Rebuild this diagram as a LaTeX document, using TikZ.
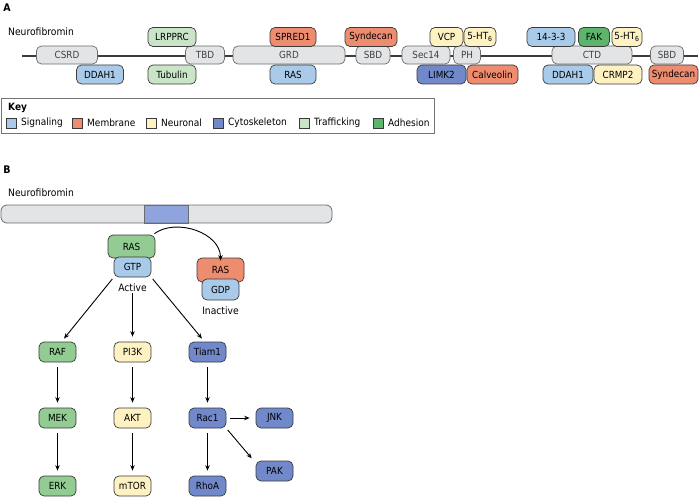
\documentclass[tikz,border=0pt]{standalone}
\usepackage{fontspec}
\setmainfont{DejaVu Sans}[FakeStretch=0.9]
\usetikzlibrary{arrows.meta}
\definecolor{sig}{HTML}{A9CBE9}
\definecolor{mem}{HTML}{EE8C70}
\definecolor{neu}{HTML}{FEF2C3}
\definecolor{cyt}{HTML}{7189CB}
\definecolor{tra}{HTML}{C9E4C7}
\definecolor{adh}{HTML}{5DB46C}
\definecolor{rasg}{HTML}{92CC92}
\definecolor{dom}{HTML}{E2E4E6}
\definecolor{barblue}{HTML}{8FA4DD}
\definecolor{lin}{HTML}{3C3C3C}
\definecolor{edge}{HTML}{3A3A3A}
\definecolor{domedge}{HTML}{6A6C6E}
\begin{document}
\begin{tikzpicture}[x=1pt,y=-1pt,
  pbox/.style={draw=edge,rounded corners=5pt,line width=0.7pt,minimum height=19pt,inner sep=0pt,font=\fontsize{9.8}{11}\selectfont,text=black},
  dbox/.style={draw=domedge,fill=dom,rounded corners=5pt,line width=0.7pt,minimum height=18pt,inner sep=0pt,font=\fontsize{9.8}{11}\selectfont,text=black!75},
  bbox/.style={draw=edge,rounded corners=5pt,line width=0.7pt,minimum width=37pt,minimum height=20pt,inner sep=0pt,font=\fontsize{9.8}{11}\selectfont},
  keysq/.style={draw=edge,line width=0.6pt,minimum width=10pt,minimum height=10pt,inner sep=0pt},
  keytxt/.style={anchor=west,inner sep=0pt,font=\fontsize{10}{12}\selectfont},
  plain/.style={inner sep=0pt,font=\fontsize{10.2}{12}\selectfont},
  panel/.style={inner sep=0pt,font=\fontsize{10.5}{12}\selectfont\bfseries},
  arr/.style={-{Stealth[length=5.5pt,width=4.5pt]},line width=0.9pt,black}]
\useasboundingbox (0,0) rectangle (700,497);
% ---------- Panel A ----------
\node[panel] (lA) at (7,8) {A};
\node[plain,anchor=west] (nfA) at (8,32) {Neurofibromin};
\coordinate (l0) at (22,56);
\coordinate (l1) at (698,56);
\draw[lin,line width=1.8pt] (l0) -- (l1);
% domains
\node[dbox,minimum width=61pt] (csrd) at (67,55) {CSRD};
\node[dbox,minimum width=39pt] (tbd) at (205,55) {TBD};
\node[dbox,minimum width=112pt] (grd) at (289,55) {GRD};
\node[dbox,minimum width=34pt] (sbd1) at (373,55) {SBD};
\node[dbox,minimum width=48pt] (sec) at (426,55) {Sec14};
\node[dbox,minimum width=27pt] (ph) at (467,55) {PH};
\node[dbox,minimum width=80pt] (ctd) at (592,55) {CTD};
\node[dbox,minimum width=33pt] (sbd2) at (667,55) {SBD};
% binding partners
\node[pbox,fill=sig,minimum width=47pt] (ddah1) at (100,74.5) {DDAH1};
\node[pbox,fill=tra,minimum width=48pt] (lrp) at (172,37) {LRPPRC};
\node[pbox,fill=tra,minimum width=48pt] (tub) at (172,74.5) {Tubulin};
\node[pbox,fill=mem,minimum width=46pt] (spred) at (293,37) {SPRED1};
\node[pbox,fill=sig,minimum width=46pt] (rasA) at (293,74.5) {RAS};
\node[pbox,fill=mem,minimum width=52pt] (synd1) at (371,37) {Syndecan};
\node[pbox,fill=neu,minimum width=33pt] (vcp) at (446.5,37) {VCP};
\node[pbox,fill=neu,minimum width=32pt] (ht1) at (480,37) {5-HT\textsubscript{6}};
\node[pbox,fill=cyt,minimum width=49pt] (limk) at (441.5,74.5) {LIMK2};
\node[pbox,fill=mem,minimum width=51pt] (calv) at (492.5,74.5) {Calveolin};
\node[pbox,fill=sig,minimum width=48pt] (f1433) at (551,37) {14-3-3};
\node[pbox,fill=adh,minimum width=31pt] (fak) at (594,37) {FAK};
\node[pbox,fill=neu,minimum width=30pt] (ht2) at (627,37) {5-HT\textsubscript{6}};
\node[pbox,fill=sig,minimum width=50pt] (ddah2) at (568,74.5) {DDAH1};
\node[pbox,fill=neu,minimum width=48pt] (crmp) at (618,74.5) {CRMP2};
\node[pbox,fill=mem,minimum width=49pt] (synd2) at (673.5,74.5) {Syndecan};
% key
\coordinate (k0) at (1,98);
\coordinate (k1) at (434,133);
\draw[draw=black!55,line width=0.8pt] (k0) rectangle (k1);
\node[inner sep=0pt,anchor=west,font=\fontsize{10}{12}\selectfont\bfseries] (keyt) at (8,108) {Key};
\node[keysq,fill=sig] (s1) at (11,123) {};
\node[keytxt] (t1) at (21,123) {Signaling};
\node[keysq,fill=mem] (s2) at (77,123) {};
\node[keytxt] (t2) at (87,123) {Membrane};
\node[keysq,fill=neu] (s3) at (151,123) {};
\node[keytxt] (t3) at (161,123) {Neuronal};
\node[keysq,fill=cyt] (s4) at (218,123) {};
\node[keytxt] (t4) at (228,123) {Cytoskeleton};
\node[keysq,fill=tra] (s5) at (304,123) {};
\node[keytxt] (t5) at (314,123) {Trafficking};
\node[keysq,fill=adh] (s6) at (378,123) {};
\node[keytxt] (t6) at (388,123) {Adhesion};
% ---------- Panel B ----------
\node[panel] (lB) at (7,170) {B};
\node[plain,anchor=west] (nfB) at (8,193) {Neurofibromin};
\coordinate (b0) at (1,205);
\coordinate (b1) at (332,223);
\coordinate (g0) at (144,205);
\coordinate (g1) at (188,223);
\fill[dom,rounded corners=6pt] (b0) rectangle (b1);
\draw[fill=barblue,draw=domedge,line width=0.7pt] (g0) rectangle (g1);
\draw[domedge,line width=0.8pt,rounded corners=6pt] (b0) rectangle (b1);
% RAS active / inactive
\node[bbox,fill=rasg,minimum width=47pt,minimum height=23pt] (rasG) at (131.5,246.5) {RAS};
\node[bbox,fill=sig,minimum height=20pt] (gtp) at (132.5,267) {GTP};
\node[plain] (act) at (132.5,288) {Active};
\node[bbox,fill=mem,minimum width=47pt,minimum height=24pt] (rasR) at (220.5,270) {RAS};
\node[bbox,fill=sig,minimum height=21pt] (gdp) at (220.5,289.5) {GDP};
\node[plain] (inact) at (220.5,311) {Inactive};
\draw[arr] ([xshift=-1pt,yshift=1pt]rasG.north east) .. controls +(22,-16) and +(0,-28) .. ([yshift=-3pt]rasR.north);
% pathway nodes
\node[bbox,fill=rasg] (raf) at (57.5,352) {RAF};
\node[bbox,fill=neu] (pi3k) at (132.5,352) {PI3K};
\node[bbox,fill=cyt] (tiam) at (207.5,352) {Tiam1};
\node[bbox,fill=rasg] (mek) at (57.5,418) {MEK};
\node[bbox,fill=neu] (akt) at (132.5,418) {AKT};
\node[bbox,fill=cyt] (rac) at (207.5,418) {Rac1};
\node[bbox,fill=cyt] (jnk) at (274.5,418) {JNK};
\node[bbox,fill=rasg] (erk) at (57.5,486) {ERK};
\node[bbox,fill=neu] (mtor) at (132.5,486) {mTOR};
\node[bbox,fill=cyt] (rhoa) at (207.5,486) {RhoA};
\node[bbox,fill=cyt] (pak) at (274.5,471) {PAK};
% arrows
\draw[arr,shorten <=2pt,shorten >=4pt] (gtp.south west) -- ([xshift=4pt]raf.north);
\draw[arr,shorten <=1pt,shorten >=5pt] (act.south) -- (pi3k.north);
\draw[arr,shorten <=2pt,shorten >=4pt] (gtp.south east) -- ([xshift=-3pt]tiam.north);
\draw[arr,shorten <=5pt,shorten >=5pt] (raf) -- (mek);
\draw[arr,shorten <=5pt,shorten >=5pt] (mek) -- (erk);
\draw[arr,shorten <=5pt,shorten >=5pt] (pi3k) -- (akt);
\draw[arr,shorten <=5pt,shorten >=5pt] (akt) -- (mtor);
\draw[arr,shorten <=5pt,shorten >=5pt] (tiam) -- (rac);
\draw[arr,shorten <=5pt,shorten >=5pt] (rac) -- (rhoa);
\draw[arr,shorten <=4pt,shorten >=6pt] (rac) -- (jnk);
\draw[arr,shorten <=2pt,shorten >=3pt] (rac.south east) -- ([xshift=-2pt]pak.north west);
\end{tikzpicture}
\end{document}
